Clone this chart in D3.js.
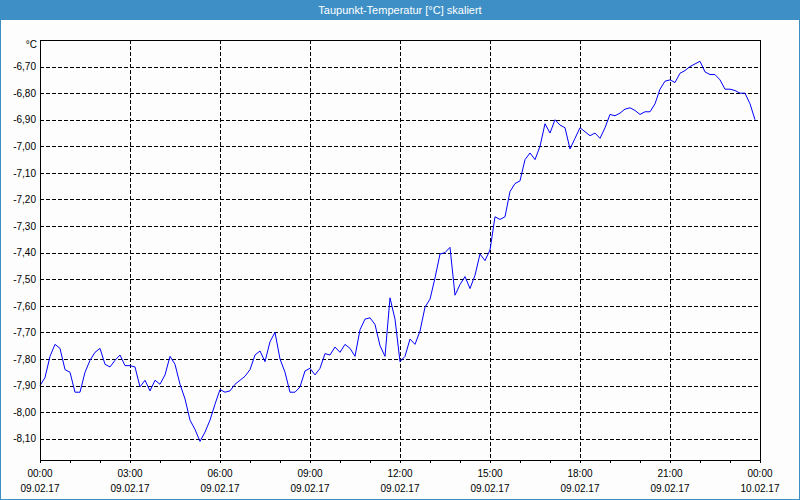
<!DOCTYPE html>
<html><head><meta charset="utf-8">
<script src="https://cdn.jsdelivr.net/npm/d3@7"></script>
<style>
html,body{margin:0;padding:0;background:#fcfdfc;}
svg{display:block;}
</style></head>
<body>
<svg id="c" width="800" height="500"></svg>
<script>
const title = "Taupunkt-Temperatur [°C] skaliert";
const unitLabel = "°C";
const startTime = "2017-02-09T00:00:00";
const endTime = "2017-02-10T00:00:00";
const stepMinutes = 10;
const yTicks = [-6.70,-6.80,-6.90,-7.00,-7.10,-7.20,-7.30,-7.40,-7.50,-7.60,-7.70,-7.80,-7.90,-8.00,-8.10];
const yDomain = [-8.18, -6.60];
const values = [
-7.90,-7.87,-7.79,-7.745,-7.76,-7.84,-7.85,-7.925,-7.925,-7.85,
-7.805,-7.775,-7.76,-7.82,-7.83,-7.805,-7.785,-7.825,-7.825,-7.83,
-7.905,-7.88,-7.92,-7.88,-7.895,-7.86,-7.79,-7.82,-7.895,-7.95,
-8.03,-8.065,-8.11,-8.075,-8.03,-7.97,-7.915,-7.925,-7.92,-7.895,
-7.88,-7.865,-7.84,-7.785,-7.77,-7.81,-7.735,-7.70,-7.80,-7.85,
-7.925,-7.925,-7.905,-7.845,-7.835,-7.86,-7.835,-7.78,-7.785,-7.755,
-7.775,-7.745,-7.76,-7.79,-7.69,-7.65,-7.645,-7.67,-7.75,-7.79,
-7.57,-7.65,-7.81,-7.79,-7.725,-7.745,-7.695,-7.605,-7.575,-7.495,
-7.405,-7.40,-7.38,-7.56,-7.52,-7.49,-7.535,-7.485,-7.405,-7.43,
-7.39,-7.265,-7.275,-7.265,-7.17,-7.14,-7.13,-7.05,-7.025,-7.05,
-7.00,-6.915,-6.95,-6.90,-6.92,-6.93,-7.01,-6.97,-6.93,-6.945,
-6.96,-6.95,-6.97,-6.93,-6.88,-6.885,-6.875,-6.86,-6.855,-6.865,
-6.88,-6.87,-6.87,-6.84,-6.785,-6.755,-6.75,-6.76,-6.725,-6.715,
-6.70,-6.69,-6.68,-6.72,-6.73,-6.73,-6.75,-6.785,-6.785,-6.79,
-6.80,-6.80,-6.84,-6.90
];

const W = 800, H = 500;
const m = {left:40, right:40, top:40, bottom:40};
const svg = d3.select("#c");
const font = "'Liberation Sans', Arial, sans-serif";

// frame
svg.append("rect").attr("x",0).attr("y",0).attr("width",W).attr("height",H).attr("fill","#fcfdfc");
svg.append("rect").attr("x",0.5).attr("y",0.5).attr("width",W-1).attr("height",H-1)
  .attr("fill","none").attr("stroke","#3d8fc6").attr("stroke-width",1);
svg.append("rect").attr("x",0).attr("y",0).attr("width",W).attr("height",20).attr("fill","#3d8fc6");
svg.append("text").attr("x",W/2).attr("y",10).attr("text-anchor","middle").attr("dominant-baseline","central")
  .attr("fill","#fff").attr("font-family",font).attr("font-size","11px").text(title);

const t0 = new Date(startTime), t1 = new Date(endTime);
const data = values.map((v,i)=>({t:new Date(t0.getTime()+i*stepMinutes*60000), v}));

const x = d3.scaleTime().domain([t0,t1]).range([m.left, W-m.right]);
const y = d3.scaleLinear().domain(yDomain).range([H-m.bottom, m.top]);

// grid
const grid = svg.append("g").attr("stroke","#000").attr("stroke-dasharray","4,2").attr("shape-rendering","crispEdges");
yTicks.forEach(v=>{
  grid.append("line").attr("x1",m.left).attr("x2",W-m.right).attr("y1",Math.round(y(v))+0.5).attr("y2",Math.round(y(v))+0.5);
});
const vTicks = d3.timeHour.every(3).range(t0, t1).filter(d=>+d!==+t0);
vTicks.forEach(d=>{
  grid.append("line").attr("y1",m.top).attr("y2",H-m.bottom).attr("x1",Math.round(x(d))+0.5).attr("x2",Math.round(x(d))+0.5);
});

// line
const line = d3.line().x(d=>x(d.t)).y(d=>y(d.v));
svg.append("path").datum(data).attr("d",line).attr("fill","none").attr("stroke","#0000ff").attr("stroke-width",1);

// border
svg.append("rect").attr("x",m.left+0.5).attr("y",m.top+0.5).attr("width",W-m.left-m.right).attr("height",H-m.top-m.bottom)
  .attr("fill","none").attr("stroke","#000").attr("stroke-width",1).attr("shape-rendering","crispEdges");

// y axis labels
const yAxis = d3.axisLeft(y).tickValues(yTicks).tickSize(0).tickPadding(4)
  .tickFormat(v=>d3.format(".2f")(v).replace(".",",").replace("−","-"));
const ga = svg.append("g").attr("transform",`translate(${m.left},0)`).call(yAxis);
ga.select(".domain").remove();
ga.selectAll("text").attr("font-family",font).attr("font-size","10px").attr("fill","#000");
svg.append("text").attr("x",37).attr("y",48).attr("text-anchor","end").attr("font-family",font)
  .attr("font-size","10px").attr("fill","#000").text(unitLabel);

// x axis
const xAxis = d3.axisBottom(x).ticks(d3.timeHour.every(1)).tickSize(3).tickFormat("");
const gx = svg.append("g").attr("transform",`translate(0,${H-m.bottom})`).call(xAxis);
gx.select(".domain").remove();
gx.selectAll("line").attr("stroke","#000").attr("shape-rendering","crispEdges");
const labTicks = d3.timeHour.every(3).range(t0, new Date(t1.getTime()+1));
const fT = d3.timeFormat("%H:%M"), fD = d3.timeFormat("%d.%m.%y");
const lab = svg.append("g").attr("font-family",font).attr("font-size","10px").attr("fill","#000").attr("text-anchor","middle");
labTicks.forEach(d=>{
  lab.append("text").attr("x",x(d)).attr("y",473).attr("dominant-baseline","central").text(fT(d));
  lab.append("text").attr("x",x(d)).attr("y",488).attr("dominant-baseline","central").text(fD(d));
});
</script>
</body></html>
